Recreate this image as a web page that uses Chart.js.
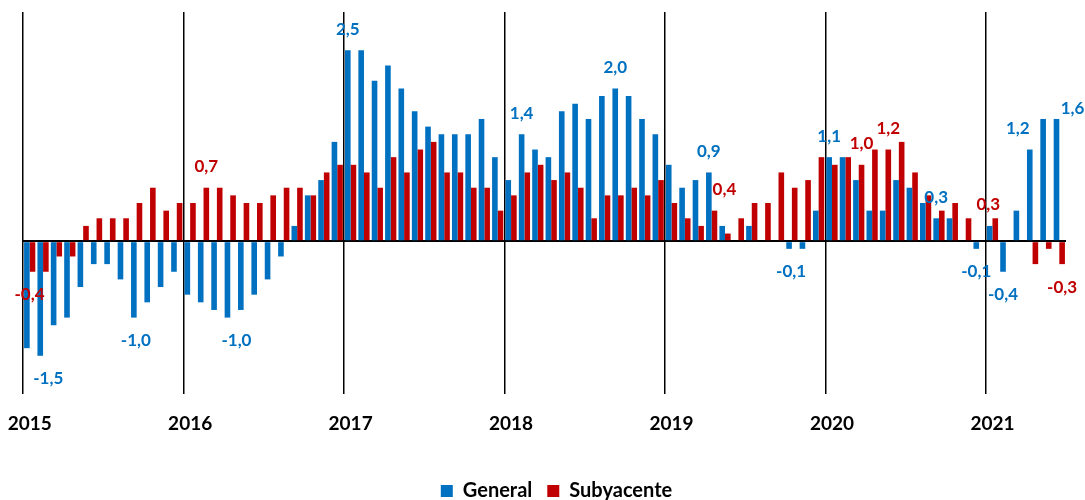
<!DOCTYPE html>
<html>
<head>
<meta charset="utf-8">
<script src="https://cdn.jsdelivr.net/npm/chart.js@4/dist/chart.umd.min.js"></script>
<style>
  html, body { margin: 0; padding: 0; background: #fff; }
  #wrap { width: 1085px; height: 500px; }
</style>
</head>
<body>
<div id="wrap"><canvas id="ipcChart"></canvas></div>
<script>
const years = ["2015", "2016", "2017", "2018", "2019", "2020", "2021"];
const monthNames = ["ene", "feb", "mar", "abr", "may", "jun", "jul", "ago", "sep", "oct", "nov", "dic"];

// monthly rates, jan 2015 - jun 2021
const general = [
  -1.4, -1.5, -1.1, -1.0, -0.6, -0.3, -0.3, -0.5, -1.0, -0.8, -0.6, -0.4,
  -0.7, -0.8, -0.9, -1.0, -0.9, -0.7, -0.5, -0.2, 0.2, 0.6, 0.8, 1.3,
  2.5, 2.5, 2.1, 2.3, 2.0, 1.7, 1.5, 1.4, 1.4, 1.4, 1.6, 1.1,
  0.8, 1.4, 1.2, 1.1, 1.7, 1.8, 1.6, 1.9, 2.0, 1.9, 1.6, 1.4,
  1.0, 0.7, 0.8, 0.9, 0.2, 0.0, 0.2, 0.0, 0.0, -0.1, -0.1, 0.4,
  1.1, 1.1, 0.8, 0.4, 0.4, 0.8, 0.7, 0.5, 0.3, 0.3, 0.0, -0.1,
  0.2, -0.4, 0.4, 1.2, 1.6, 1.6
];
const subyacente = [
  -0.4, -0.4, -0.2, -0.2, 0.2, 0.3, 0.3, 0.3, 0.5, 0.7, 0.4, 0.5,
  0.5, 0.7, 0.7, 0.6, 0.5, 0.5, 0.6, 0.7, 0.7, 0.6, 0.9, 1.0,
  1.0, 0.9, 0.7, 1.1, 0.9, 1.2, 1.3, 0.9, 0.9, 0.7, 0.7, 0.4,
  0.6, 0.9, 1.0, 0.8, 0.9, 0.7, 0.3, 0.6, 0.6, 0.7, 0.6, 0.8,
  0.5, 0.3, 0.2, 0.4, 0.1, 0.3, 0.5, 0.5, 0.9, 0.7, 0.8, 1.1,
  1.0, 1.1, 1.0, 1.2, 1.2, 1.3, 0.9, 0.6, 0.4, 0.5, 0.3, 0.0,
  0.3, 0.0, 0.0, -0.3, -0.1, -0.3
];

// which months carry a value label
const generalLabels = [1, 8, 15, 24, 37, 44, 51, 57, 60, 68, 71, 73, 75, 77];
const subyacenteLabels = [0, 13, 51, 62, 64, 72, 77];

const categories = [];
years.forEach((y) => monthNames.forEach((m) => categories.push(m + "-" + y)));
categories.length = general.length;

const BLUE = "#0070C0";
const RED = "#C00000";

// small nudges so labels sit like in the original
const nudges = {
  "0-1": { dx: 8 }, "0-8": { dx: 2 }, "0-15": { dx: 9 }, "0-57": { dx: 2 },
  "0-75": { dx: -12 }, "0-77": { dx: 16, dy: -10 },
  "1-0": { dx: -3 }, "1-51": { dx: 10 }, "1-72": { dx: -7, dy: -14 }
};

const pickedLabels = {
  id: "pickedLabels",
  afterLayout(chart) {
    // legend sits a bit right of centre in the original
    chart.legend.left += 12;
    chart.legend.right += 12;
  },
  afterDatasetsDraw(chart) {
    const ctx = chart.ctx;
    ctx.save();
    ctx.font = "bold 17px Lato";
    ctx.textAlign = "center";
    ctx.textBaseline = "middle";
    [generalLabels, subyacenteLabels].forEach((list, ds) => {
      const meta = chart.getDatasetMeta(ds);
      const dataset = chart.data.datasets[ds];
      list.forEach((i) => {
        const bar = meta.data[i];
        const v = dataset.data[i];
        const n = nudges[ds + "-" + i] || {};
        const dy = n.dy !== undefined ? n.dy : (v < 0 ? 23 : -21);
        ctx.fillStyle = dataset.backgroundColor;
        ctx.fillText(v.toFixed(1).replace(".", ","), bar.x + (n.dx || 0), bar.y + dy);
      });
    });
    ctx.restore();
  }
};

new Chart(document.getElementById("ipcChart"), {
  type: "bar",
  data: {
    labels: categories,
    datasets: [
      {
        label: "General",
        data: general,
        backgroundColor: BLUE,
        categoryPercentage: 0.84,
        barPercentage: 1.0,
      },
      {
        label: "Subyacente",
        data: subyacente,
        backgroundColor: RED,
        categoryPercentage: 0.84,
        barPercentage: 1.0,
      },
    ],
  },
  options: {
    responsive: true,
    maintainAspectRatio: false,
    animation: false,
    layout: { padding: { top: 12, left: 23, right: 19, bottom: -11 } },
    plugins: {
      tooltip: { enabled: false },
      legend: {
        position: "bottom",
        labels: {
          boxWidth: 12,
          boxHeight: 12,
          padding: 15,
          color: "#000",
          font: { family: "Lato", size: 20, weight: "bold" },
        },
      },
    },
    scales: {
      x: {
        border: { display: false },
        grid: {
          drawTicks: false,
          lineWidth: 1.5,
          color: (c) => (c.index % 12 === 0 ? "#000" : "rgba(0,0,0,0)"),
        },
        ticks: {
          autoSkip: false,
          maxRotation: 0,
          padding: 18,
          color: "#000",
          font: { family: "Lato", size: 19, weight: "bold" },
          callback: (val, idx) => (idx % 12 === 0 ? years[idx / 12] : ""),
        },
        afterFit: (axis) => {
          axis.height = 72;
          axis.paddingLeft = 0;
          axis.paddingRight = 0;
        },
      },
      y: {
        min: -2,
        max: 3,
        border: { display: false },
        ticks: { display: false, stepSize: 0.5 },
        grid: {
          drawTicks: false,
          lineWidth: 2,
          color: (c) => (c.tick && c.tick.value === 0 ? "#000" : "rgba(0,0,0,0)"),
        },
      },
    },
  },
  plugins: [pickedLabels],
});
</script>
</body>
</html>
